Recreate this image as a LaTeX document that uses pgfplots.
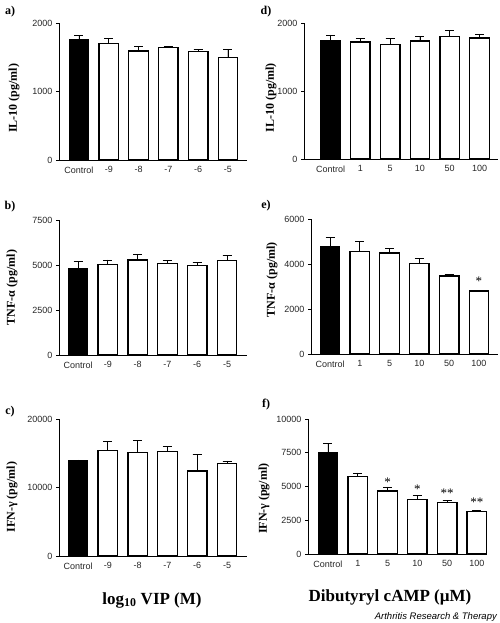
\documentclass[border=0pt]{standalone}
\usepackage{fontspec}
\setmainfont{Liberation Serif}
\newfontfamily\arial{Liberation Sans}
\usepackage{pgfplots}
\pgfplotsset{compat=1.18}
\usepackage{pgfplotstable}

\pgfplotstableread{
x y e
0 1756 64
1 1702 69
2 1590 73
3 1639 20
4 1580 30
5 1498 117
}\dataA
\pgfplotstableread{
x y e
0 4778 407
1 5037 241
2 5278 315
3 5093 148
4 4963 167
5 5259 260
}\dataB
\pgfplotstableread{
x y e
0 13873 147
1 15441 1226
2 15147 1667
3 15245 735
4 12402 2451
5 13480 393
}\dataC
\pgfplotstableread{
x y e
0 1745 79
1 1721 49
2 1681 98
3 1735 64
4 1804 88
5 1779 54
}\dataD
\pgfplotstableread{
x y e
0 4765 411
1 4559 456
2 4485 191
3 4015 220
4 3471 58
5 2794 30
}\dataE
\pgfplotstableread{
x y e
0 7531 691
1 5753 247
2 4667 296
3 4025 345
4 3827 148
5 3136 74
}\dataF

\pgfplotsset{
 panel/.style={
   scale only axis,
   anchor=south west,
   axis lines*=left,
   axis line style={line width=0.8pt, black},
   ymin=0,
   xtick={0,...,5},
   major tick length=3pt,
   tick align=outside,
   xtick style={draw=none},
   ytick style={line width=0.8pt, black},
   tick label style={font=\arial\fontsize{9}{10}\selectfont, text=black!85},
   /pgf/number format/assume math mode=true,
   /pgf/number format/1000 sep={},
   scaled y ticks=false,
   ylabel style={font=\bfseries\fontsize{12}{14}\selectfont, anchor=center, rotate=0},
   clip=false,
 },
 barerr/.style={ybar, bar width=19.5pt, bar shift=0pt, draw=black, line width=1.3pt,
   error bars/y dir=plus, error bars/y explicit,
   error bars/error bar style={line width=0.8pt, black},
   error bars/error mark options={line width=0.8pt, mark size=4.5pt, black, rotate=90}},
 ctrl/.style={barerr, fill=black},
 trt/.style={barerr, fill=white},
}
\tikzset{sigstar/.style={font=\fontsize{13}{14}\selectfont, anchor=base, inner sep=0pt}}

\begin{document}
\begin{tikzpicture}[x=1pt,y=1pt]
\useasboundingbox (0,0) rectangle (500,623);

% a
\begin{axis}[panel, at={(59pt,463pt)}, width=188pt, height=137pt,
  xmin=-0.671, xmax=5.638, ymax=2000, ytick={0,1000,2000},
  xticklabels={Control,-9,-8,-7,-6,-5},
  ylabel={IL-10 (pg/ml)},
  every axis y label/.append style={at={(axis description cs:-0.239,0.45)}}]
\addplot[ctrl] table[x=x,y=y,y error=e] {\dataA};
\addplot[trt] table[x=x,y=y,y error=e, skip coords between index={0}{1}] {\dataA};
\end{axis}

% b
\begin{axis}[panel, at={(59pt,268pt)}, width=188pt, height=135pt,
  xmin=-0.638, xmax=5.67, ymax=7500, ytick={0,2500,5000,7500},
  xticklabels={Control,-9,-8,-7,-6,-5},
  ylabel={TNF-α (pg/ml)},
  every axis y label/.append style={at={(axis description cs:-0.25,0.5)}}]
\addplot[ctrl] table[x=x,y=y,y error=e] {\dataB};
\addplot[trt] table[x=x,y=y,y error=e, skip coords between index={0}{1}] {\dataB};
\end{axis}

% c
\begin{axis}[panel, at={(59pt,67pt)}, width=188pt, height=137pt,
  xmin=-0.638, xmax=5.67, ymax=20000, ytick={0,10000,20000},
  xticklabels={Control,-9,-8,-7,-6,-5},
  ylabel={IFN-γ (pg/ml)},
  every axis y label/.append style={at={(axis description cs:-0.25,0.43)}}]
\addplot[ctrl] table[x=x,y=y,y error=e] {\dataC};
\addplot[trt] table[x=x,y=y,y error=e, skip coords between index={0}{1}] {\dataC};
\end{axis}

% d
\begin{axis}[panel, at={(304pt,464pt)}, width=194pt, height=136pt,
  xmin=-0.89, xmax=5.62, ymax=2000, ytick={0,1000,2000},
  xticklabels={Control,1,5,10,50,100},
  ylabel={IL-10 (pg/ml)},
  every axis y label/.append style={at={(axis description cs:-0.17,0.45)}}]
\addplot[ctrl] table[x=x,y=y,y error=e] {\dataD};
\addplot[trt] table[x=x,y=y,y error=e, skip coords between index={0}{1}] {\dataD};
\end{axis}

% e
\begin{axis}[panel, at={(311pt,269pt)}, width=187pt, height=135pt,
  xmin=-0.638, xmax=5.64, ymax=6000, ytick={0,2000,4000,6000},
  xticklabels={Control,1,5,10,50,100},
  ylabel={TNF-α (pg/ml)},
  every axis y label/.append style={at={(axis description cs:-0.209,0.55)}}]
\addplot[ctrl] table[x=x,y=y,y error=e] {\dataE};
\addplot[trt] table[x=x,y=y,y error=e, skip coords between index={0}{1}] {\dataE};
\node[sigstar] at (axis cs:5,3034) {*};
\end{axis}

% f
\begin{axis}[panel, at={(308pt,69pt)}, width=179pt, height=135pt,
  xmin=-0.671, xmax=5.34, ymax=10000, ytick={0,2500,5000,7500,10000},
  xticklabels={Control,1,5,10,50,100},
  ylabel={IFN-γ (pg/ml)},
  every axis y label/.append style={at={(axis description cs:-0.245,0.41)}}]
\addplot[ctrl] table[x=x,y=y,y error=e] {\dataF};
\addplot[trt] table[x=x,y=y,y error=e, skip coords between index={0}{1}] {\dataF};
\node[sigstar] at (axis cs:2,5026) {*};
\node[sigstar] at (axis cs:3,4483) {*};
\node[sigstar] at (axis cs:4,4162) {**};
\node[sigstar] at (axis cs:5,3495) {**};
\end{axis}

% panel letters
\node[font=\bfseries\fontsize{12}{14}\selectfont] at (10,611) {a)};
\node[font=\bfseries\fontsize{12}{14}\selectfont] at (10,416) {b)};
\node[font=\bfseries\fontsize{12}{14}\selectfont] at (10,211) {c)};
\node[font=\bfseries\fontsize{12}{14}\selectfont] at (266,611) {d)};
\node[font=\bfseries\fontsize{12}{14}\selectfont] at (266,417) {e)};
\node[font=\bfseries\fontsize{12}{14}\selectfont] at (266,218) {f)};

% bottom titles
\node[font=\bfseries\fontsize{17}{20}\selectfont] at (152,23) {log\textsubscript{10} VIP (M)};
\node[font=\bfseries\fontsize{17}{20}\selectfont] at (390,26) {Dibutyryl cAMP (µM)};
\node[font=\arial\itshape\fontsize{9.5}{11}\selectfont, anchor=east, inner sep=0pt] at (497,6) {Arthritis Research \& Therapy};
\end{tikzpicture}
\end{document}
